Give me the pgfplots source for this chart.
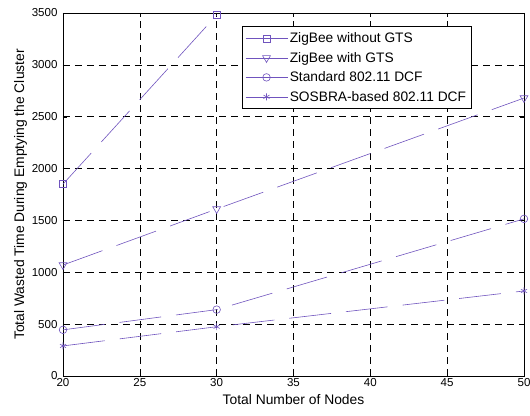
\documentclass[border=0pt]{standalone}
\usepackage{pgfplots}
\pgfplotsset{compat=1.18}
\usepackage{fontspec}
\setmainfont{Liberation Sans}
\definecolor{ser}{RGB}{112,84,190}
\begin{document}
\begin{tikzpicture}
\begin{axis}[
  scale only axis,
  width=461bp, height=363bp,
  xmin=20, xmax=50, ymin=0, ymax=3500,
  xtick={20,25,...,50}, ytick={0,500,...,3500},
  /pgf/number format/assume math mode=true,
  /pgf/number format/1000 sep={},
  tick label style={font=\fontsize{11.6}{14}\selectfont},
  xticklabel style={yshift=1bp},
  yticklabel style={xshift=-2bp},
  label style={font=\fontsize{13.9}{16}\selectfont},
  xlabel={Total Number of Nodes},
  ylabel={Total Wasted Time During Emptying the Cluster},
  xlabel style={yshift=-1bp},
  ylabel style={yshift=-2bp},
  grid=major,
  major grid style={black, line width=0.5bp, dash pattern=on 7bp off 5bp},
  tick align=inside,
  major tick length=4bp,
  axis line style={black, line width=0.7bp},
  every tick/.style={black},
  legend style={at={(0.388,0.963)}, anchor=north west, draw=black, line width=0.7bp,
    font=\fontsize{13.8}{16.5}\selectfont, row sep=4bp, inner xsep=3bp, inner ysep=4bp},
  legend cell align=left,
  legend image code/.code={
    \draw[mark repeat=2,mark phase=2,#1, solid]
      plot coordinates {(0bp,0bp) (21bp,0bp) (42bp,0bp)};
  },
  every axis plot/.append style={color=ser, line width=0.6bp, dash pattern=on 42bp off 15bp},
]
\addplot[mark=square, mark size=3.5bp, mark options={solid, fill=none}] coordinates {(20,1850) (30,3480)};
\addlegendentry{ZigBee without GTS}
\addplot[mark=triangle, mark size=4.5bp, mark options={solid, rotate=180, fill=none}] coordinates {(20,1070) (30,1610) (50,2680)};
\addlegendentry{ZigBee with GTS}
\addplot[mark=o, mark size=3.8bp, mark options={solid}] coordinates {(20,445) (30,640) (50,1515)};
\addlegendentry{Standard 802.11 DCF}
\addplot[mark=asterisk, mark size=3.5bp, mark options={solid}] coordinates {(20,290) (30,475) (50,820)};
\addlegendentry{SOSBRA-based 802.11 DCF}
\end{axis}
\pgfresetboundingbox
\path ([xshift=-63bp,yshift=-40bp]current axis.south west) rectangle ([xshift=6bp,yshift=13bp]current axis.north east);
\end{tikzpicture}
\end{document}
